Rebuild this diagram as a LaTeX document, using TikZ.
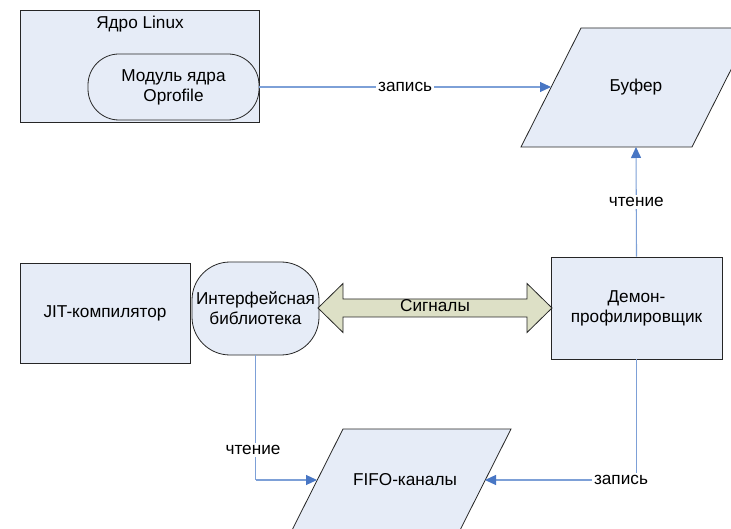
\documentclass[tikz,border=0pt]{standalone}
\usepackage{fontspec}
\setmainfont{Liberation Sans}
\usetikzlibrary{arrows.meta}
\definecolor{boxfill}{RGB}{230,236,247}
\definecolor{sigfill}{RGB}{221,224,198}
\definecolor{linkline}{RGB}{125,160,215}
\definecolor{linktip}{RGB}{72,118,196}
\tikzset{
  block/.style={draw=black!85, line width=0.8pt, fill=boxfill, inner sep=0pt, align=center},
  term/.style={block, rounded corners=#1},
  label/.style={font=\fontsize{17.2}{20}\selectfont, align=center, inner sep=1pt},
  tag/.style={label, fill=white, inner sep=2pt},
  link/.style={draw=linkline, line width=1.1pt,
    -{Triangle[length=11pt,width=10pt,color=linktip]}},
  plainlink/.style={draw=linkline, line width=1.1pt},
}
\begin{document}
\begin{tikzpicture}[x=1pt,y=-1pt]
\clip (0,0) rectangle (731,529);
\fill[white] (0,0) rectangle (731,529);

% kernel with the Oprofile module inside
\node[block, minimum width=239pt, minimum height=112pt] (kernel) at (139.5,66) {};
\node[label] (kerneltext) at (140,24) {Ядро Linux};
\node[term=31pt, minimum width=171pt, minimum height=66pt, label] (module) at (173.5,87)
  {Модуль ядра\\Oprofile};

% buffer (parallelogram)
\draw[block] (521,147) -- (581,28) -- (752,28) -- (692,147) -- cycle;
\node[label] (buffer) at (636,87) {Буфер};
\coordinate (bufferleft) at (551,87);
\coordinate (bufferbottom) at (636,147);

% JIT compiler and interface library
\node[block, minimum width=170pt, minimum height=100pt, label] (jit) at (105,313)
  {JIT-компилятор};
\node[term=38pt, minimum width=127pt, minimum height=93pt, label] (iface) at (255.5,308.5)
  {Интерфейсная\\библиотека};

% profiling daemon
\node[block, minimum width=171pt, minimum height=102pt, label] (daemon) at (636.5,308)
  {Демон-\\профилировщик};

% FIFO channels (parallelogram)
\draw[block] (283,548) -- (343,429) -- (511,429) -- (451,548) -- cycle;
\node[label] (fifo) at (405,480) {FIFO-каналы};
\coordinate (fifoleft) at (317,480);
\coordinate (fiforight) at (485,480);

% signals: double block arrow between library and daemon
\draw[draw=black!85, line width=0.8pt, fill=sigfill]
  (318,308) -- (343,283.5) -- (343,299) -- (527,299) -- (527,283.5) -- (552,308)
  -- (527,332.5) -- (527,317) -- (343,317) -- (343,332.5) -- cycle;
\node[label] (signals) at (435,306) {Сигналы};

% connectors
\draw[link] (module.east |- bufferleft) -- node[tag] {запись} (bufferleft);
\draw[link] (daemon.north) -- node[tag] {чтение} (bufferbottom);
\coordinate (ifacecorner) at (iface.south |- fifoleft);
\draw[plainlink] (iface.south) -- (ifacecorner);
\draw[link] (ifacecorner) -- (fifoleft);
\node[tag] (readlow) at (253,450) {чтение};
\coordinate (daemoncorner) at (daemon.south |- fiforight);
\draw[plainlink] (daemon.south) -- (daemoncorner);
\draw[link] (daemoncorner) -- (fiforight);
\node[tag] (writelow) at (621,480) {запись};
\end{tikzpicture}
\end{document}
